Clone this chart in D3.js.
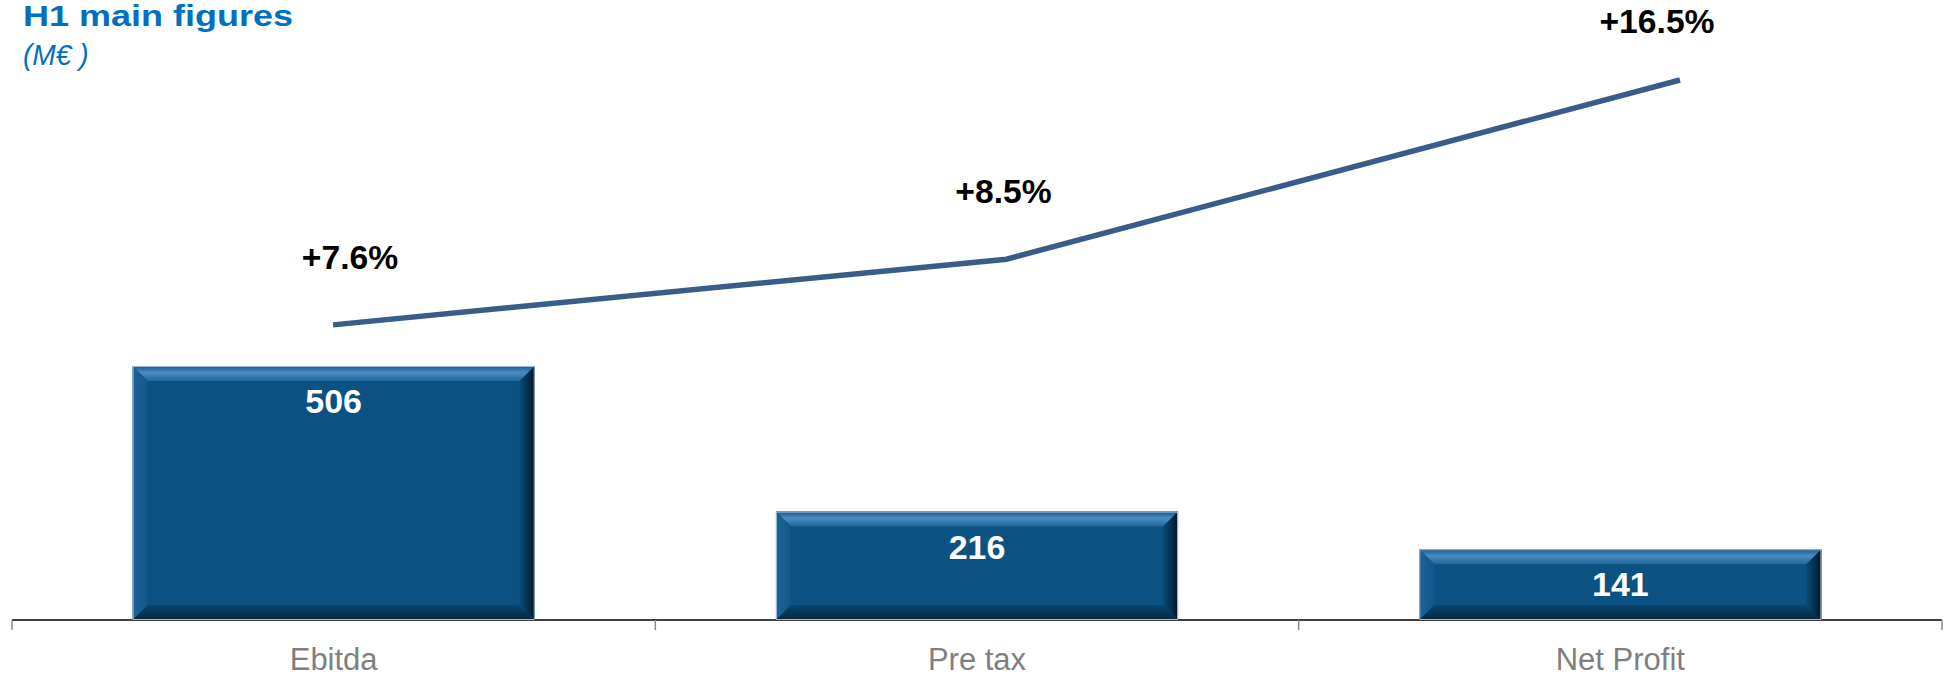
<!DOCTYPE html>
<html>
<head>
<meta charset="utf-8">
<script src="https://cdn.jsdelivr.net/npm/d3@7"></script>
<style>
  html, body { margin: 0; padding: 0; background: #ffffff; }
  svg { display: block; }
</style>
</head>
<body>
<svg id="chart" width="1951" height="677"></svg>
<script>
// H1 main figures, in M€
const categories = ["Ebitda", "Pre tax", "Net Profit"];
const values = [506, 216, 141];
const growthLabels = ["+7.6%", "+8.5%", "+16.5%"];
// level of the growth trend line on its own 0-100 secondary scale
const trendLevel = [47.6, 58.2, 87.1];

const W = 1951, H = 677;
const baseY = 620;
const svg = d3.select("#chart");
const FONT = "'Liberation Sans', Arial, Helvetica, sans-serif";

const x = d3.scaleBand().domain(categories).range([12, 1942])
  .paddingInner(0.375).paddingOuter(0.1875);
const y = d3.scaleLinear().domain([0, 1235]).range([baseY, 0]);
const xLine = d3.scalePoint().domain(categories).range([333, 1680]);
const xLabel = d3.scalePoint().domain(categories).range([350, 1657]);
const yLine = d3.scaleLinear().domain([0, 100]).range([baseY, 0]);

// gradients for the bevelled bars
const defs = svg.append("defs");
function grad(id, x1, y1, x2, y2, stops) {
  const g = defs.append("linearGradient").attr("id", id)
    .attr("x1", x1).attr("y1", y1).attr("x2", x2).attr("y2", y2);
  stops.forEach(([o, c]) => g.append("stop").attr("offset", o).attr("stop-color", c));
}
grad("bevTop", 0, 0, 0, 1, [[0, "#1d5c8c"], [0.45, "#4a8cc2"], [1, "#1f669a"]]);
grad("bevLeft", 0, 0, 1, 0, [[0, "#1e6295"], [1, "#11588a"]]);
grad("bevRight", 0, 0, 1, 0, [[0, "#0a4b77"], [0.6, "#052e4b"], [1, "#01121f"]]);
grad("bevBottom", 0, 0, 0, 1, [[0, "#0a4770"], [1, "#06253c"]]);

// axis line and category ticks
const axis = svg.append("g");
axis.append("line")
  .attr("x1", x.range()[0]).attr("x2", x.range()[1])
  .attr("y1", baseY).attr("y2", baseY)
  .attr("stroke", "#000").attr("stroke-width", 1.5);
const tickXs = categories.map(c => x(c) - x.step() * x.paddingInner() / 2)
  .concat([x.range()[1]]);
tickXs[0] = x.range()[0];
axis.selectAll("line.tick").data(tickXs).join("line")
  .attr("class", "tick")
  .attr("x1", d => d).attr("x2", d => d)
  .attr("y1", baseY).attr("y2", baseY + 10)
  .attr("stroke", "#8c8c8c").attr("stroke-width", 1.5);

// bars with bevelled edges
const bev = 15;
const bars = svg.append("g").selectAll("g.bar")
  .data(categories.map((c, i) => ({ c, v: values[i] })))
  .join("g").attr("class", "bar");

bars.each(function (d) {
  const g = d3.select(this);
  const x0 = x(d.c), x1 = x(d.c) + x.bandwidth();
  const y0 = y(d.v), y1 = y(0);
  const b = Math.min(bev, (y1 - y0) / 3);
  const pts = a => a.map(p => p.join(",")).join(" ");
  g.append("rect").attr("x", x0).attr("y", y0)
    .attr("width", x1 - x0).attr("height", y1 - y0).attr("fill", "#0b5181");
  g.append("polygon").attr("points", pts([[x0, y0], [x1, y0], [x1 - b, y0 + b], [x0 + b, y0 + b]]))
    .attr("fill", "url(#bevTop)");
  g.append("polygon").attr("points", pts([[x0, y0], [x0 + b, y0 + b], [x0 + b, y1 - b], [x0, y1]]))
    .attr("fill", "url(#bevLeft)");
  g.append("polygon").attr("points", pts([[x1, y0], [x1, y1], [x1 - b, y1 - b], [x1 - b, y0 + b]]))
    .attr("fill", "url(#bevRight)");
  g.append("polygon").attr("points", pts([[x0, y1], [x0 + b, y1 - b], [x1 - b, y1 - b], [x1, y1]]))
    .attr("fill", "url(#bevBottom)");
  g.append("rect").attr("x", x0 + 0.5).attr("y", y0 + 0.5)
    .attr("width", x1 - x0 - 1).attr("height", y1 - y0 - 1)
    .attr("fill", "none").attr("stroke", "#9fbcd6").attr("stroke-width", 1);
});

// text helper: horizontally widened text anchored at (tx, ty)
function wideText(parent, tx, ty, sx, txt) {
  return parent.append("text")
    .attr("transform", `translate(${tx},${ty}) scale(${sx},1)`)
    .attr("x", 0).attr("y", 0).text(txt);
}

// value labels inside bars
const valG = svg.append("g")
  .attr("font-family", FONT).attr("font-weight", "bold")
  .attr("font-size", 33).attr("fill", "#ffffff").attr("text-anchor", "middle");
categories.forEach((c, i) => {
  wideText(valG, x(c) + x.bandwidth() / 2, y(values[i]) + 47, 1.03, String(values[i]));
});

// category labels
svg.append("g").selectAll("text").data(categories).join("text")
  .attr("x", d => x(d) + x.bandwidth() / 2).attr("y", 670)
  .attr("text-anchor", "middle")
  .attr("font-family", FONT).attr("font-size", 31).attr("fill", "#7f7f7f")
  .text(d => d);

// growth trend line
const line = d3.line().x(d => xLine(d.c)).y(d => yLine(d.v));
svg.append("path")
  .datum(categories.map((c, i) => ({ c, v: trendLevel[i] })))
  .attr("d", line)
  .attr("fill", "none").attr("stroke", "#385d8a").attr("stroke-width", 5.5);

// growth labels above the line, kept inside the top edge
const grG = svg.append("g")
  .attr("font-family", FONT).attr("font-weight", "bold")
  .attr("font-size", 33).attr("fill", "#000000").attr("text-anchor", "middle");
categories.forEach((c, i) => {
  const ty = Math.max(yLine(trendLevel[i]) - 56, 33);
  wideText(grG, xLabel(c), ty, 1.02, growthLabels[i]);
});

// title
const tG = svg.append("g").attr("font-family", FONT).attr("fill", "#0070c0");
wideText(tG, 23, 26, 1.2, "H1 main figures").attr("font-weight", "bold").attr("font-size", 30);
wideText(tG, 23, 65, 0.97, "(M€ )").attr("font-style", "italic").attr("font-size", 29);
</script>
</body>
</html>
